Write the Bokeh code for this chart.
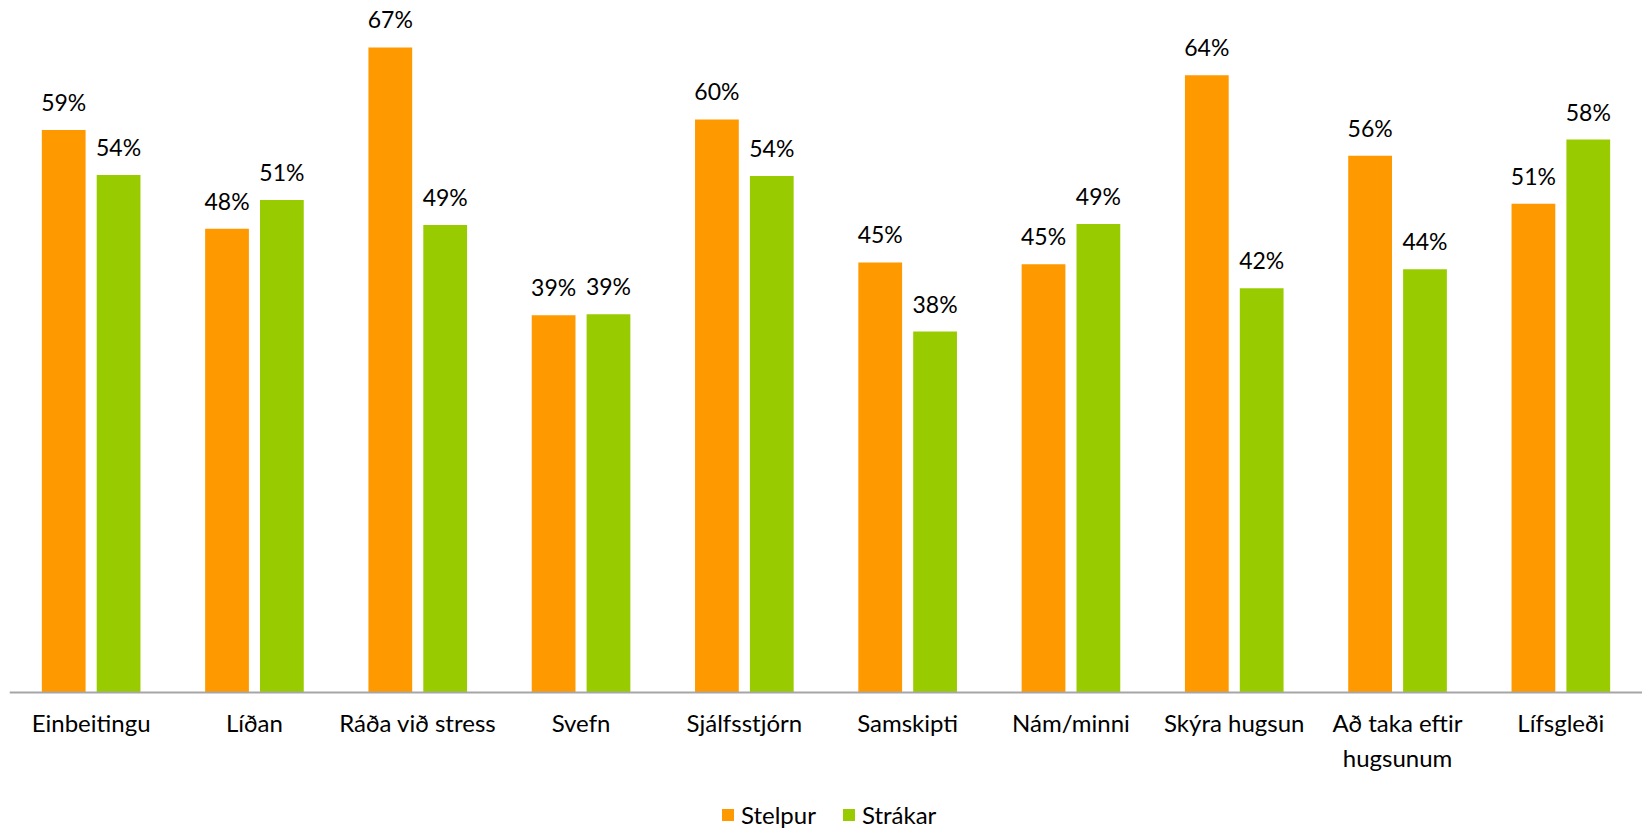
from bokeh.plotting import figure
from bokeh.models import ColumnDataSource, FactorRange, Range1d, Legend, LegendItem
from bokeh.transform import dodge
from bokeh.core.properties import value
from bokeh.embed import file_html
from bokeh.resources import INLINE

categories = ["Einbeitingu", "Líðan", "Ráða við stress", "Svefn", "Sjálfsstjórn",
              "Samskipti", "Nám/minni", "Skýra hugsun", "Að taka eftir\nhugsunum", "Lífsgleði"]
stelpur = [0.586, 0.483, 0.672, 0.393, 0.597, 0.448, 0.446, 0.643, 0.559, 0.509]
strakar = [0.539, 0.513, 0.487, 0.394, 0.538, 0.376, 0.488, 0.421, 0.441, 0.576]
series_names = ["Stelpur", "Strákar"]
colors = ["#FF9900", "#99CC00"]

FONT = "Lato"

def fmt(vals):
    return [f"{int(round(v * 100))}%" for v in vals]

src = ColumnDataSource(dict(cat=categories, stelpur=stelpur, strakar=strakar,
                            lab_s=fmt(stelpur), lab_b=fmt(strakar)))

# frame spans the whole canvas height; zero line sits 138 px above the bottom
p = figure(width=1642, height=830, x_range=FactorRange(*categories),
           y_range=Range1d(-0.14375, 0.72083), output_backend="svg", toolbar_location=None,
           y_axis_location=None, min_border_left=9, min_border_right=0,
           min_border_top=0, min_border_bottom=0)
p.outline_line_color = None
p.background_fill_color = "white"
p.border_fill_color = "white"
p.xgrid.grid_line_color = None
p.ygrid.grid_line_color = None

off = 0.168
bw = 0.268
r1 = p.vbar(x=dodge("cat", -off, range=p.x_range), top="stelpur", width=bw,
            color=colors[0], line_color=None, source=src)
r2 = p.vbar(x=dodge("cat", off, range=p.x_range), top="strakar", width=bw,
            color=colors[1], line_color=None, source=src)

for col, lab, o in [("stelpur", "lab_s", -off), ("strakar", "lab_b", off)]:
    p.text(x=dodge("cat", o, range=p.x_range), y=col, text=lab, source=src,
           text_align="center", text_baseline="alphabetic", y_offset=-28,
           text_font=value(FONT), text_font_size="23px", text_color="#000000")

ax = p.xaxis[0]
ax.fixed_location = 0
ax.axis_line_color = "#a6a6a6"
ax.axis_line_width = 2
ax.major_tick_line_color = None
ax.minor_tick_line_color = None
ax.major_tick_out = 0
ax.major_tick_in = 0
ax.major_label_standoff = 16
ax.major_label_text_font = FONT
ax.major_label_text_font_size = "24px"
ax.major_label_text_color = "#000000"

legend = Legend(items=[LegendItem(label=series_names[0], renderers=[r1]),
                       LegendItem(label=series_names[1], renderers=[r2])],
                orientation="horizontal", location=(711, 1),
                glyph_width=15, glyph_height=15, label_standoff=6, spacing=25,
                padding=0, margin=0, border_line_color=None,
                background_fill_alpha=0, label_text_font=FONT,
                label_text_font_size="24px", label_text_color="#000000")
p.add_layout(legend, "center")

open("out.html", "w").write(file_html(p, INLINE))
